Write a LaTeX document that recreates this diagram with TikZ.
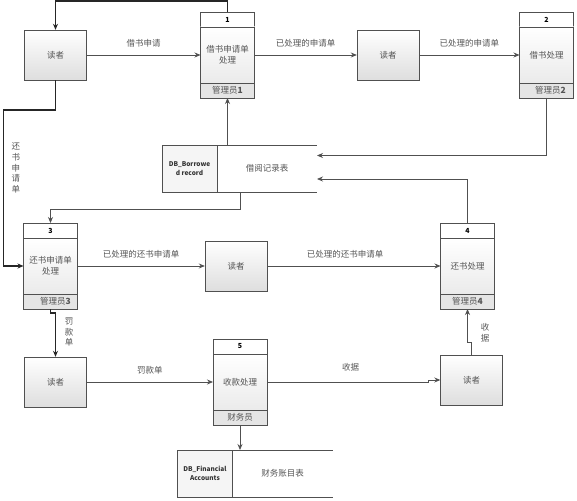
\documentclass[tikz,border=0pt]{standalone}
\usepackage{fontspec}
\setmainfont{Noto Sans CJK SC}
\usetikzlibrary{arrows.meta,positioning}
\definecolor{linegray}{HTML}{505050}
\definecolor{textgray}{HTML}{555555}
\tikzset{
  reader/.style={draw=linegray,top color=white,bottom color=black!13,minimum width=62pt,minimum height=50pt,inner sep=0pt,text=textgray},
  phead/.style={draw=linegray,fill=white,minimum width=54pt,minimum height=15pt,inner sep=0pt,outer sep=0pt,font=\fontsize{7}{8}\selectfont\bfseries},
  pbody/.style={draw=linegray,top color=white,bottom color=black!8,minimum width=54pt,minimum height=56pt,inner sep=0pt,outer sep=0pt,align=center,text=textgray},
  pfoot/.style={draw=linegray,fill=black!10,minimum width=54pt,minimum height=15pt,inner sep=0pt,outer sep=0pt,text=textgray},
  dbid/.style={draw=linegray,fill=black!4,minimum width=55pt,minimum height=47pt,inner sep=1pt,outer sep=0pt,align=center,font=\fontsize{6.5}{9}\selectfont\bfseries,text=black!80},
  dbname/.style={minimum width=100pt,minimum height=47pt,inner sep=0pt,outer sep=0pt,text=textgray},
  flow/.style={draw=linegray,line width=0.8pt,->},
  bold flow/.style={draw=black!85,line width=1.6pt,->},
  lbl/.style={text=textgray,inner sep=1pt},
  vlbl/.style={text=textgray,align=center,font=\fontsize{8.5}{10.6}\selectfont}
}
\begin{document}
\begin{tikzpicture}[x=1pt,y=-1pt,>={Stealth[length=6pt,width=5pt]},font=\fontsize{8.5}{11}\selectfont]
   \useasboundingbox (0,0) rectangle (577,500);

   % 读者
   \node[reader] (r1) at (55.5,55) {读者};
   \node[reader] (r2) at (388,55) {读者};
   \node[reader] (r3) at (236,266) {读者};
   \node[reader] (r4) at (55.5,382) {读者};
   \node[reader] (r5) at (471.5,380) {读者};

   % 处理
   \node[phead] (p1h) at (227.5,19.5) {1};
   \node[pbody,below=0pt of p1h] (p1) {借书申请单\\处理};
   \node[pfoot,below=0pt of p1] (p1f) {管理员\textbf{1}};

   \node[phead] (p2h) at (546.5,19.5) {2};
   \node[pbody,below=0pt of p2h] (p2) {借书处理};
   \node[pfoot,below=0pt of p2] (p2f) {\hspace*{8pt}管理员\textbf{2}};

   \node[phead] (p3h) at (50.5,230.5) {3};
   \node[pbody,below=0pt of p3h] (p3) {还书申请单\\处理};
   \node[pfoot,below=0pt of p3] (p3f) {\hspace*{10pt}管理员\textbf{3}};

   \node[phead] (p4h) at (467.5,230.5) {4};
   \node[pbody,below=0pt of p4h] (p4) {还书处理};
   \node[pfoot,below=0pt of p4] (p4f) {管理员\textbf{4}};

   \node[phead] (p5h) at (240,346.5) {5};
   \node[pbody,below=0pt of p5h] (p5) {收款处理};
   \node[pfoot,below=0pt of p5] (p5f) {财务员};

   % 数据存储
   \node[dbid] (db1id) at (189.5,168.5) {DB\_Borrowe\\d record};
   \node[dbname,right=0pt of db1id] (db1) {借阅记录表};
   \draw[linegray] (db1.north west) -- (db1.north east) (db1.south west) -- (db1.south east);

   \node[dbid] (db2id) at (205,473.5) {DB\_Financial\\Accounts};
   \node[dbname,right=0pt of db2id] (db2) {财务账目表};
   \draw[linegray] (db2.north west) -- (db2.north east) (db2.south west) -- (db2.south east);

   % 数据流
   \draw[bold flow] (p1h.north) -- ++(0,-11) -| (r1.north);
   \draw[flow] (r1.east) -- (p1.west) node[lbl,midway,above=6pt] {借书申请};
   \draw[flow] (p1.east) -- (r2.west) node[lbl,midway,above=6pt] {已处理的申请单};
   \draw[flow] (r2.east) -- (p2.west) node[lbl,midway,above=6pt] {已处理的申请单};
   \draw[flow] (p2f.south) |- ([yshift=13pt]db1.east);
   \draw[flow] (p1f.south |- db1.north) -- (p1f.south);
   \draw[flow] (p4h.north) |- ([yshift=-10.5pt]db1.east);
   \draw[flow] ([xshift=-27pt]db1.south) -- ++(0,17) -| (p3h.north);

   \draw[bold flow] (r1.south) -- ++(0,30) -| ([xshift=-20pt]p3.west) -- (p3.west);
   \node[vlbl] (l1) at (16,168) {还\\书\\申\\请\\单};

   \draw[flow] (p3.east) -- (r3.west) node[lbl,midway,above=6pt] {已处理的还书申请单};
   \draw[flow] (r3.east) -- (p4.west) node[lbl,pos=0.45,above=6pt] {已处理的还书申请单};

   \draw[bold flow] (p3f.south) -- ++(0,4) -| (r4.north);
   \node[vlbl] (l2) at (69,332) {罚\\款\\单};

   \draw[flow] (r4.east) -- (p5.west) node[lbl,midway,above=6pt] {罚款单};
   \draw[flow] (p5f.south) -- (p5f.south |- db2.north);
   \draw[flow] (p5.east) -- ++(161,0) node[lbl,pos=0.52,above=9pt] {收据} |- (r5.west);
   \draw[flow] (r5.north) -- ++(0,-12) -| (p4f.south);
   \node[vlbl] (l3) at (485,333) {收\\据};
\end{tikzpicture}
\end{document}
